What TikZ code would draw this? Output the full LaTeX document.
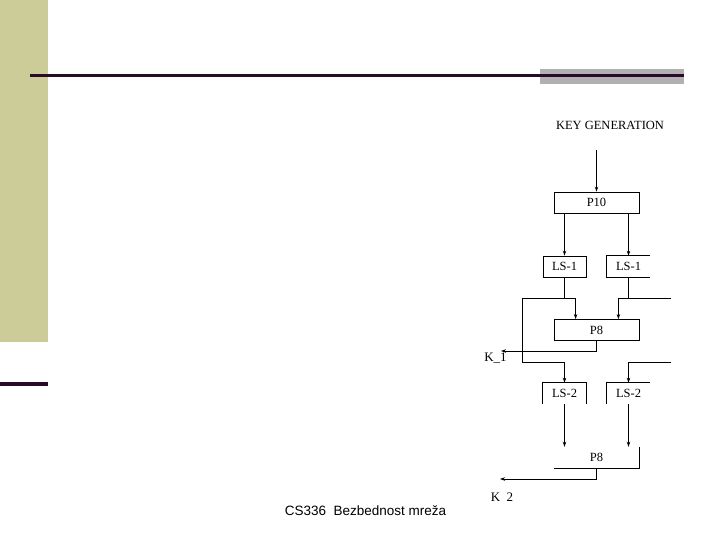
\documentclass[tikz,border=0pt]{standalone}
\usepackage{fontspec}
\setmainfont{Liberation Serif}
\newfontfamily\footfont{Liberation Sans}
\usetikzlibrary{arrows.meta}
\definecolor{barolive}{HTML}{CCCC99}
\definecolor{darkplum}{HTML}{2A0A2A}
\definecolor{graybar}{HTML}{B2B0B2}
\begin{document}
\begin{tikzpicture}[x=1pt,y=-1pt,
  wire/.style={line width=0.8pt},
  arr/.style={wire,-{Stealth[length=5pt,width=3.5pt]}},
  wide/.style={minimum width=85pt,minimum height=21pt,inner sep=0pt,font=\fontsize{12.5}{14}\selectfont},
  narrow/.style={minimum width=43pt,minimum height=21pt,inner sep=0pt,font=\fontsize{12.5}{14}\selectfont},
  framed/.style={draw,line width=0.8pt},
  lbl/.style={inner sep=0pt,font=\fontsize{13}{15}\selectfont}]
\useasboundingbox (0,0) rectangle (720,540);
% slide decoration
\fill[barolive] (0,0) rectangle (48,342);
\fill[darkplum] (0,382) rectangle (48,386);
\fill[graybar] (540,69) rectangle (684,84);
\draw[darkplum,line width=3pt] (30,76) -- (684,76);
% title
\node[lbl,font=\fontsize{12.5}{14}\selectfont] (title) at (610,125) {KEY GENERATION};
% boxes
\node[wide,framed] (p10) at (596.5,202.5) {P10};
\node[narrow,framed] (ls1l) at (564.5,266.5) {LS-1};
\node[narrow] (ls1r) at (628.5,266.5) {LS-1};
\draw[wire] (ls1r.south east) -- (ls1r.south west) -- (ls1r.north west) -- (ls1r.north east);
\node[wide,framed] (p8a) at (596.5,330) {P8};
\node[narrow] (ls2l) at (564.5,393.5) {LS-2};
\draw[wire] (ls2l.south west) -- (ls2l.north west) -- (ls2l.north east) -- (ls2l.south east);
\node[narrow] (ls2r) at (628.5,393.5) {LS-2};
\draw[wire] (ls2r.south west) -- (ls2r.north west) -- (ls2r.north east);
\node[wide] (p8b) at (596.5,457.5) {P8};
\draw[wire] (p8b.south west) -- (p8b.south east) -- (p8b.north east);
% labels
\node[lbl] (k1) at (495.5,358) {K\_1};
\node[lbl] (k2) at (502,497) {K\enspace 2};
% coordinates
\coordinate (kin) at (596.5,150);
\coordinate (jl) at (564.5,298);
\coordinate (jr) at (628.5,298);
\coordinate (bl) at (522,298);
\coordinate (bl2) at (522,362);
\coordinate (br) at (671,298);
\coordinate (br2) at (671,362);
\coordinate (k1tip) at (501,351);
\coordinate (k2tip) at (500,479);
% connectors
\draw[arr] (kin) -- (p10.north);
\draw[arr] (p10.south -| ls1l) -- (ls1l.north);
\draw[arr] (p10.south -| ls1r) -- (ls1r.north);
\draw[arr] (ls1l.south) -- (jl) -| ([xshift=22pt]p8a.north west);
\draw[arr] (ls1r.south) -- (jr) -| ([xshift=-21pt]p8a.north east);
\draw[arr] (jl) -- (bl) -- (bl2) -| (ls2l.north);
\draw[wire] (jr) -- (br);
\draw[arr] (br2) -| (ls2r.north);
\draw[arr] (p8a.south) |- (k1tip);
\draw[arr] (ls2l.south) -- (ls2l.south |- p8b.north);
\draw[arr] (ls2r.south) -- (ls2r.south |- p8b.north);
\draw[arr] (p8b.south) |- (k2tip);
% footer
\node[inner sep=0pt,font=\footfont\fontsize{13.5}{15}\selectfont] (foot) at (365.5,511) {CS336\ \ Bezbednost mreža};
\end{tikzpicture}
\end{document}
